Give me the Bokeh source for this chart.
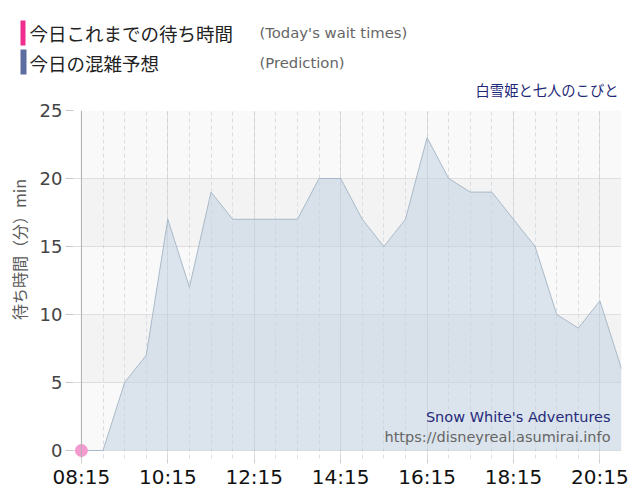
import math
import pandas as pd
from bokeh.plotting import figure
from bokeh.layouts import column, row
from bokeh.models import (ColumnDataSource, Range1d, FixedTicker, BoxAnnotation,
                          Label, Span)
from bokeh.embed import file_html
from bokeh.resources import INLINE

# prediction, every 30 min
pred_times = ["08:15", "08:45", "09:15", "09:45", "10:15", "10:45", "11:15",
              "11:45", "12:15", "12:45", "13:15", "13:45", "14:15", "14:45",
              "15:15", "15:45", "16:15", "16:45", "17:15", "17:45", "18:15",
              "18:45", "19:15", "19:45", "20:15", "20:45"]
pred_values = [0, 0, 5, 7, 17, 12, 19, 17, 17, 17, 17, 20, 20, 17,
               15, 17, 23, 20, 19, 19, 17, 15, 10, 9, 11, 6]

# today's actual wait times so far
actual_times = ["08:15"]
actual_values = [0]

tick_labels = ["08:15", "10:15", "12:15", "14:15", "16:15", "18:15", "20:15"]
y_ticks = [0, 5, 10, 15, 20, 25]

PINK = "#ee2d8e"
NAVY = "#1e2878"
HEAD_H = 99
MAIN_H = 393


def to_ms(t):
    return pd.Timestamp("2024-01-01 " + t).timestamp() * 1000.0


def bare(fig):
    fig.outline_line_color = None
    fig.grid.visible = False
    fig.background_fill_color = "white"
    fig.border_fill_color = "white"
    return fig


pred_x = [to_ms(t) for t in pred_times]
act_x = [to_ms(t) for t in actual_times]
major_x = [to_ms(t) for t in tick_labels]
t0, t1 = pred_x[0], pred_x[-1]
half_hour = 30 * 60 * 1000.0

pred_src = ColumnDataSource(data=dict(x=pred_x, y=pred_values))
act_src = ColumnDataSource(data=dict(x=act_x, y=actual_values))

# ---------- header (legend + attraction name) ----------
head = bare(figure(width=632, height=HEAD_H, x_range=Range1d(0, 632),
                   y_range=Range1d(HEAD_H, 0), x_axis_location=None,
                   y_axis_location=None, toolbar_location=None, tools="",
                   output_backend="svg", min_border=0))
head.quad(left=[20, 20], right=[25, 26], top=[20, 49], bottom=[45, 74],
          fill_color=[PINK, "#5e6d9f"], line_color=None)


def label(fig, x, y, text, font, size, color, align="left", angle=0.0,
          units="data"):
    fig.add_layout(Label(x=x, y=y, x_units=units, y_units=units, text=text,
                         text_font=font, text_font_size=size,
                         text_color=color, text_align=align,
                         text_baseline="middle", angle=angle))


label(head, 29, 32, "今日これまでの待ち時間", "Noto Sans CJK JP", "18.5px", "#222222")
label(head, 259, 32, "(Today's wait times)", "DejaVu Sans", "14.8px", "#666666")
label(head, 29, 62, "今日の混雑予想", "Noto Sans CJK JP", "18.5px", "#222222")
label(head, 259, 62, "(Prediction)", "DejaVu Sans", "14.8px", "#666666")
label(head, 618, 88.5, "白雪姫と七人のこびと", "Noto Sans CJK JP", "14.3px", NAVY,
      align="right")

# ---------- y axis title ----------
ylab = bare(figure(width=36, height=MAIN_H, x_range=Range1d(0, 36),
                   y_range=Range1d(0, MAIN_H), x_axis_location=None,
                   y_axis_location=None, toolbar_location=None, tools="",
                   output_backend="svg", min_border=0))
label(ylab, 18, MAIN_H - (256 - HEAD_H), "待ち時間（分）min", "Noto Sans CJK JP",
      "16px", "#5a5a5a", align="center", angle=math.pi / 2)

# ---------- main chart ----------
p = figure(width=596, height=MAIN_H, x_axis_type="datetime",
           x_range=Range1d(t0 - 11 * 60 * 1000.0, t1),
           y_range=Range1d(-0.59, 25),
           toolbar_location=None, tools="", output_backend="svg",
           min_border_left=37, min_border_right=11,
           min_border_top=110 - HEAD_H, min_border_bottom=34)
p.outline_line_color = None
p.background_fill_color = "white"
p.border_fill_color = "white"

# background bands
for lo, hi, col in [(0, 5, "#f9f9f9"), (5, 10, "#f3f3f3"), (10, 15, "#f9f9f9"),
                    (15, 20, "#f3f3f3"), (20, 25, "#f9f9f9")]:
    p.add_layout(BoxAnnotation(left=t0, right=t1, bottom=lo, top=hi,
                               fill_color=col, fill_alpha=1.0, line_color=None,
                               level="image"))

minor = [t0 + i * half_hour for i in range(int((t1 - t0) / half_hour) + 1)]
p.xaxis.ticker = FixedTicker(ticks=major_x, minor_ticks=minor)
p.yaxis.ticker = FixedTicker(ticks=y_ticks)
p.xaxis.major_label_overrides = {m: s for m, s in zip(major_x, tick_labels)}

p.xgrid.grid_line_color = "#c8c8c8"
p.xgrid.grid_line_dash = "1 1"
p.xgrid.minor_grid_line_color = "#d8dee5"
p.xgrid.minor_grid_line_dash = "4 3"
p.ygrid.grid_line_color = "#c4c4c4"
p.ygrid.grid_line_dash = "1 1"

p.xaxis.axis_line_color = None
p.xaxis.major_tick_line_color = "#d0d0d0"
p.xaxis.major_tick_out = 5
p.xaxis.major_tick_in = 0
p.xaxis.minor_tick_line_color = None
p.xaxis.major_label_standoff = 1
p.xaxis.major_label_text_font = "DejaVu Sans"
p.xaxis.major_label_text_font_size = "20px"
p.xaxis.major_label_text_color = "#111111"

p.yaxis.axis_line_color = None
p.yaxis.major_tick_line_color = "#c8c8c8"
p.yaxis.major_tick_out = 8
p.yaxis.major_tick_in = 0
p.yaxis.minor_tick_line_color = None
p.yaxis.major_label_standoff = 3
p.yaxis.major_label_text_font = "DejaVu Sans"
p.yaxis.major_label_text_font_size = "18px"
p.yaxis.major_label_text_color = "#444444"

p.add_layout(Span(location=t0, dimension="height", line_color="#b0b0b0",
                  line_width=1))

# prediction area
p.varea(x="x", y1=0, y2="y", source=pred_src, fill_color="#bdcfdf",
        fill_alpha=0.5)
p.line(x="x", y="y", source=pred_src, line_color="#a9b9c9", line_width=1)

# actual
p.line(x="x", y="y", source=act_src, line_color=PINK, line_width=2)
p.scatter(x="x", y="y", source=act_src, size=13, fill_color="#f49ad0",
          line_color=None)

label(p, 537, 42, "Snow White's Adventures", "DejaVu Sans", "14.5px", "#262a7a",
      align="right", units="screen")
label(p, 537, 22, "https://disneyreal.asumirai.info", "DejaVu Sans", "14.5px",
      "#666666", align="right", units="screen")

layout = column(head, row(ylab, p))
open("out.html", "w").write(file_html(layout, INLINE))
